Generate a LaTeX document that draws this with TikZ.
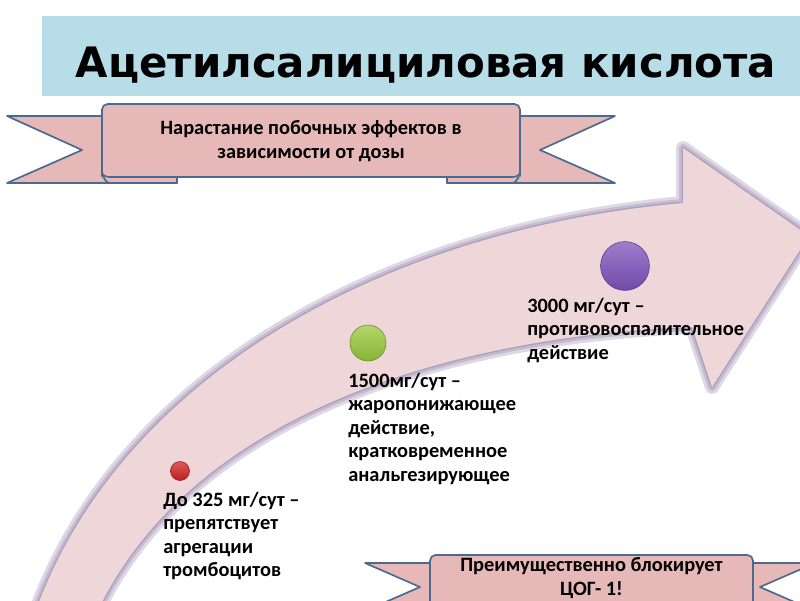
\documentclass[tikz,border=0pt]{standalone}
\usepackage{fontspec}
\setmainfont{Carlito}
\newfontfamily\titlefont{DejaVu Sans}

\definecolor{titleblue}{HTML}{B7DDE8}
\definecolor{ribbonpink}{HTML}{E6B9B8}
\definecolor{ribbonblue}{HTML}{4A6A92}
\definecolor{arrowpink}{HTML}{EFD6D8}
\definecolor{arrowglow}{HTML}{9E90B2}
\definecolor{dotred}{HTML}{D42222}
\definecolor{dotgreen}{HTML}{98C83A}
\definecolor{dotviolet}{HTML}{7E52BC}

\tikzset{
  ribbon/.style={fill=ribbonpink, draw=ribbonblue, line width=1.2pt, line join=round},
  dosetext/.style={font=\bfseries\fontsize{14.5}{16.7}\selectfont, align=left, anchor=base west, inner sep=0pt},
  bannertext/.style={font=\bfseries\fontsize{14.5}{17}\selectfont, align=center, anchor=base, inner sep=0pt},
  dotball/.style={circle, inner sep=0pt, draw=#1!70!black, line width=0.4pt, top color=#1!75!white, bottom color=#1!90!black}
}

% outline of the big bent arrow (pixel units)
\newcommand{\bentarrow}{(36,610) .. controls (120,380) and (380,230) .. (683,203)
  -- (683,148) -- (809,236) -- (712,387) -- (692,327)
  .. controls (480,335) and (200,400) .. (98,610)
  -- cycle}

\begin{document}
\begin{tikzpicture}[x=0.025cm, y=-0.025cm]
  \useasboundingbox (0,0) rectangle (800,600);
  \clip (0,0) rectangle (800,600);
  \fill[white] (0,0) rectangle (800,600);

  % title
  \fill[titleblue] (42,16) rectangle (800,96);
  \node[font=\titlefont\bfseries\fontsize{29.8}{30}\selectfont, anchor=base, inner sep=0pt] (title) at (426,77) {Ацетилсалициловая кислота};

  % big arrow with soft edge
  \draw[arrowglow!35, line width=14pt*0.7113, line join=round] \bentarrow;
  \draw[arrowglow!60, line width=8pt*0.7113, line join=round] \bentarrow;
  \draw[arrowglow!85, line width=3pt*0.7113, line join=round] \bentarrow;
  \fill[arrowpink] \bentarrow;

  % top banner
  \draw[ribbon] (102,116) -- (7,116) -- (82,150) -- (7,183) -- (177,183) -- (177,172) -- (102,172) -- cycle;
  \draw[ribbon] (520,116) -- (615,116) -- (540,150) -- (615,183) -- (447,183) -- (447,172) -- (520,172) -- cycle;
  \draw[ribbon] (177,170) -- (177,183) -- (109,183) to[out=180, in=90] (102,176) -- (102,170);
  \draw[ribbon] (447,170) -- (447,183) -- (513,183) to[out=0, in=90] (520,176) -- (520,170);
  \draw[ribbon, rounded corners=4] (102,176) -- (102,104) -- (520,104) -- (520,176);
  \fill[ribbonpink] (103,170) rectangle (519,176);
  \draw[ribbonblue, line width=1.2pt] (102,172) to[out=-90, in=180] (110,177) -- (177,177);
  \draw[ribbonblue, line width=1.2pt] (520,172) to[out=-90, in=0] (512,177) -- (447,177);
  \draw[ribbonblue, line width=1.2pt] (177,177) -- (447,177);
  \node[bannertext] (topnote) at (311,158) {Нарастание побочных эффектов в\\зависимости от дозы};

  % bottom banner
  \draw[ribbon] (430,563) -- (365,563) -- (420,587) -- (365,611) -- (430,611);
  \draw[ribbon] (753,563) -- (815,563) -- (760,587) -- (815,611) -- (753,611);
  \draw[ribbon, rounded corners=4] (430,620) -- (430,555) -- (753,555) -- (753,620);
  \node[bannertext] (bottomnote) at (591.5,595) {Преимущественно блокирует\\ЦОГ- 1!};

  % dose points
  \node[dotball=dotred, minimum size=0.475cm] (dose1) at (180,471) {};
  \node[dotball=dotgreen, minimum size=0.9cm] (dose2) at (368,343) {};
  \node[dotball=dotviolet, minimum size=1.22cm] (dose3) at (625,266) {};

  % texts are placed by the baseline of their last line
  \node[dosetext] (text1) at (163,576.5) {До 325 мг/сут –\\препятствует\\агрегации\\тромбоцитов};
  \node[dosetext] (text2) at (348,481) {1500мг/сут –\\жаропонижающее\\действие,\\кратковременное\\анальгезирующее};
  \node[dosetext] (text3) at (527,359) {3000 мг/сут –\\противовоспалительное\\действие};
\end{tikzpicture}
\end{document}
